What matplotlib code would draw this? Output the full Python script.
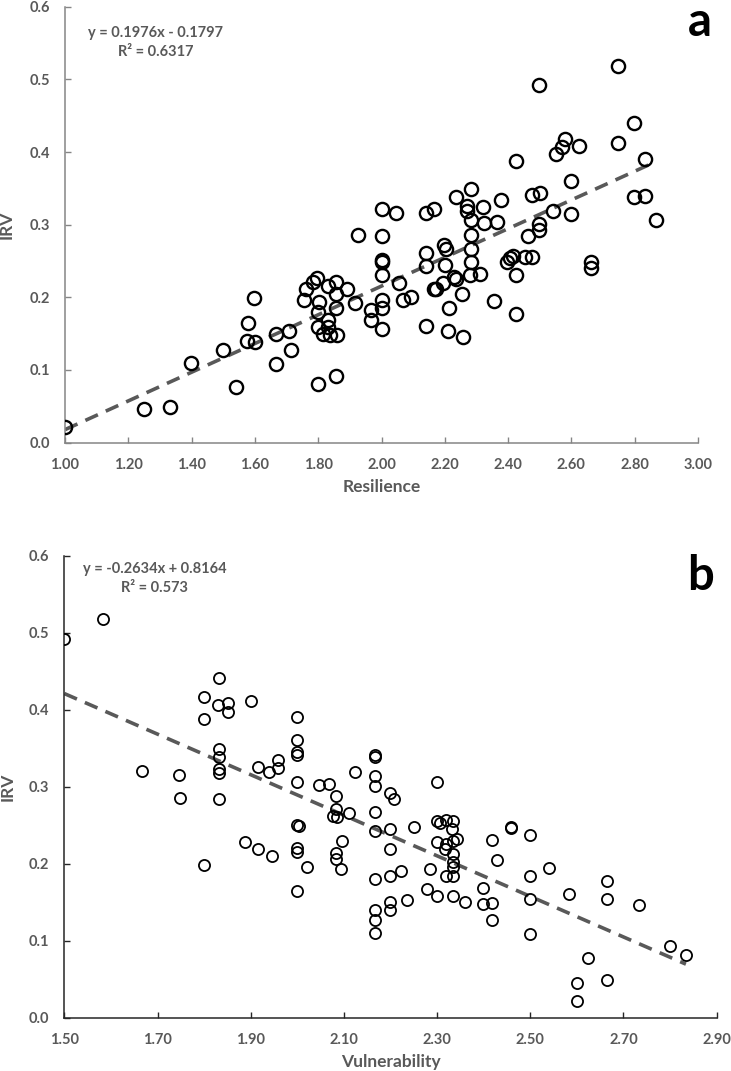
import numpy as np
import matplotlib
matplotlib.use("Agg")
import matplotlib.pyplot as plt
from matplotlib.ticker import FormatStrFormatter

plt.rcParams['font.family'] = ['Lato', 'DejaVu Sans']

# Panel a: Resilience vs IRV
res_x = [1.000, 1.249, 1.332, 1.398, 1.498, 1.541, 1.579, 1.576, 1.600, 1.598,
         1.666, 1.666, 1.708, 1.714, 1.756, 1.761, 1.784, 1.795, 1.803, 1.800,
         1.800, 1.800, 1.814, 1.832, 1.832, 1.832, 1.837, 1.856, 1.856, 1.856,
         1.858, 1.856, 1.891, 1.916, 1.926, 1.968, 1.968, 2.000, 2.047, 2.000,
         2.000, 2.000, 2.000, 2.003, 2.000, 2.000, 2.056, 2.068, 2.094, 2.140,
         2.165, 2.140, 2.140, 2.140, 2.165, 2.171, 2.197, 2.203, 2.200, 2.195,
         2.229, 2.235, 2.253, 2.213, 2.210, 2.256, 2.235, 2.283, 2.270, 2.270,
         2.283, 2.321, 2.324, 2.283, 2.283, 2.283, 2.281, 2.310, 2.747, 2.498,
         2.798, 2.747, 2.581, 2.571, 2.552, 2.623, 2.831, 2.426, 2.598, 2.474,
         2.500, 2.376, 2.798, 2.831, 2.542, 2.598, 2.868, 2.498, 2.498, 2.463,
         2.364, 2.395, 2.405, 2.416, 2.453, 2.477, 2.663, 2.663, 2.355, 2.424,
         2.426]
res_y = [0.021, 0.046, 0.049, 0.109, 0.127, 0.077, 0.164, 0.140, 0.139, 0.199,
         0.150, 0.108, 0.153, 0.127, 0.196, 0.211, 0.221, 0.227, 0.194, 0.180,
         0.159, 0.081, 0.150, 0.216, 0.169, 0.159, 0.148, 0.221, 0.205, 0.185,
         0.148, 0.092, 0.211, 0.192, 0.286, 0.183, 0.169, 0.321, 0.316, 0.285,
         0.251, 0.248, 0.231, 0.196, 0.186, 0.156, 0.220, 0.196, 0.200, 0.316,
         0.322, 0.261, 0.243, 0.160, 0.211, 0.212, 0.272, 0.266, 0.244, 0.220,
         0.228, 0.225, 0.205, 0.185, 0.154, 0.146, 0.338, 0.349, 0.326, 0.319,
         0.307, 0.324, 0.303, 0.286, 0.267, 0.248, 0.231, 0.232, 0.518, 0.492,
         0.440, 0.412, 0.418, 0.407, 0.397, 0.409, 0.391, 0.388, 0.360, 0.341,
         0.344, 0.334, 0.338, 0.340, 0.319, 0.315, 0.306, 0.301, 0.293, 0.284,
         0.304, 0.249, 0.254, 0.257, 0.256, 0.256, 0.249, 0.240, 0.195, 0.231,
         0.177]

# Panel b: Vulnerability vs IRV
vul_x = [1.500, 1.584, 1.666, 1.746, 1.749, 1.800, 1.800, 1.832, 1.830, 1.851,
         1.851, 1.900, 1.832, 1.832, 1.832, 1.832, 1.832, 1.916, 1.940, 1.959,
         1.959, 1.999, 1.999, 1.999, 1.999, 1.999, 2.047, 2.067, 2.083, 2.124,
         2.167, 2.167, 2.167, 2.167, 1.800, 1.888, 1.916, 1.945, 1.999, 2.004,
         1.999, 1.999, 2.020, 1.999, 2.083, 2.077, 2.085, 2.112, 2.095, 2.083,
         2.083, 2.093, 2.167, 2.167, 2.167, 2.167, 2.167, 2.167, 2.199, 2.208,
         2.199, 2.199, 2.199, 2.222, 2.199, 2.199, 2.236, 2.250, 2.300, 2.285,
         2.278, 2.300, 2.299, 2.306, 2.319, 2.335, 2.333, 2.299, 2.319, 2.317,
         2.342, 2.335, 2.335, 2.335, 2.335, 2.319, 2.335, 2.334, 2.360, 2.399,
         2.399, 2.417, 2.417, 2.417, 2.428, 2.459, 2.459, 2.499, 2.499, 2.499,
         2.499, 2.541, 2.583, 2.624, 2.600, 2.600, 2.665, 2.665, 2.665, 2.733,
         2.800, 2.834]
vul_y = [0.492, 0.518, 0.321, 0.316, 0.286, 0.417, 0.388, 0.441, 0.406, 0.409,
         0.397, 0.412, 0.349, 0.339, 0.323, 0.318, 0.285, 0.326, 0.319, 0.335,
         0.324, 0.391, 0.361, 0.346, 0.342, 0.307, 0.303, 0.304, 0.288, 0.319,
         0.342, 0.339, 0.314, 0.301, 0.199, 0.228, 0.220, 0.210, 0.251, 0.249,
         0.221, 0.216, 0.196, 0.165, 0.271, 0.262, 0.261, 0.266, 0.230, 0.214,
         0.206, 0.193, 0.267, 0.243, 0.181, 0.140, 0.127, 0.110, 0.292, 0.285,
         0.245, 0.220, 0.185, 0.191, 0.151, 0.140, 0.153, 0.248, 0.307, 0.194,
         0.168, 0.158, 0.256, 0.253, 0.257, 0.256, 0.245, 0.228, 0.226, 0.220,
         0.232, 0.230, 0.213, 0.203, 0.196, 0.184, 0.184, 0.158, 0.151, 0.169,
         0.148, 0.149, 0.127, 0.231, 0.205, 0.248, 0.247, 0.238, 0.185, 0.155,
         0.109, 0.195, 0.161, 0.078, 0.046, 0.022, 0.178, 0.154, 0.049, 0.147,
         0.093, 0.082]

# trendline coefficients (slope, intercept) as printed on the chart
fit_a = (0.1976, -0.1797)
fit_b = (-0.2634, 0.8164)

gray = '#595959'
fig = plt.figure(figsize=(7.31, 10.71), dpi=100)

ax1 = fig.add_axes([0.0889, 0.5867, 0.8660, 0.4070])
ax2 = fig.add_axes([0.0880, 0.0495, 0.8924, 0.4314])


def style_axes(ax, spine_col):
    for s in ['top', 'right']:
        ax.spines[s].set_visible(False)
    for s in ['left', 'bottom']:
        ax.spines[s].set_color(spine_col)
        ax.spines[s].set_linewidth(1.1)
    ax.tick_params(direction='in', length=4, width=1, color=spine_col,
                   labelcolor=gray, labelsize=10.5, pad=11)
    ax.set_ylim(0, 0.6)
    ax.set_yticks(np.arange(0, 0.61, 0.1))
    ax.yaxis.set_major_formatter(FormatStrFormatter('%.1f'))
    ax.xaxis.set_major_formatter(FormatStrFormatter('%.2f'))
    for lab in ax.get_xticklabels() + ax.get_yticklabels():
        lab.set_fontweight('bold')


# Panel a
ax1.plot(res_x, res_y, 'o', ms=9.5, mfc='none', mec='black', mew=1.7, zorder=3)
xa = np.array([min(res_x), max(res_x)])
ax1.plot(xa, fit_a[0] * xa + fit_a[1], color=gray, lw=2.6,
         dashes=(3.8, 2.4), zorder=2)
ax1.set_xlim(1.0, 3.0)
ax1.set_xticks(np.arange(1.0, 3.01, 0.2))
style_axes(ax1, '#858585')
ax1.set_xlabel('Resilience', fontsize=12.5, fontweight='bold', color=gray)
ax1.set_ylabel('IRV', fontsize=12.5, fontweight='bold', color=gray)
ax1.xaxis.set_label_coords(0.5, -0.083)
ax1.yaxis.set_label_coords(-0.079, 0.5)
ax1.text(0.143, 0.917, 'y = 0.1976x - 0.1797\nR² = 0.6317', transform=ax1.transAxes,
         ha='center', va='center', fontsize=10.5, fontweight='bold', color=gray,
         linespacing=1.45)

# Panel b
ax2.plot(vul_x, vul_y, 'o', ms=8, mfc='none', mec='black', mew=1.3, zorder=3)
xb = np.array([min(vul_x), max(vul_x)])
ax2.plot(xb, fit_b[0] * xb + fit_b[1], color=gray, lw=2.6,
         dashes=(3.8, 2.4), zorder=2)
ax2.set_xlim(1.5, 2.9)
ax2.set_xticks(np.arange(1.5, 2.91, 0.2))
style_axes(ax2, '#262626')
ax2.set_xlabel('Vulnerability', fontsize=12.5, fontweight='bold', color=gray)
ax2.set_ylabel('IRV', fontsize=12.5, fontweight='bold', color=gray)
ax2.xaxis.set_label_coords(0.5, -0.078)
ax2.yaxis.set_label_coords(-0.074, 0.5)
ax2.text(0.138, 0.951, 'y = -0.2634x + 0.8164\nR² = 0.573', transform=ax2.transAxes,
         ha='center', va='center', fontsize=10.5, fontweight='bold', color=gray,
         linespacing=1.45)

fig.text(700 / 731, 1 - 22 / 1071, 'a', ha='center', va='center',
         fontsize=34, fontweight='bold', color='black')
fig.text(700 / 731, 1 - 576 / 1071, 'b', ha='center', va='center',
         fontsize=34, fontweight='bold', color='black')

fig.savefig('out.png', dpi=100)
